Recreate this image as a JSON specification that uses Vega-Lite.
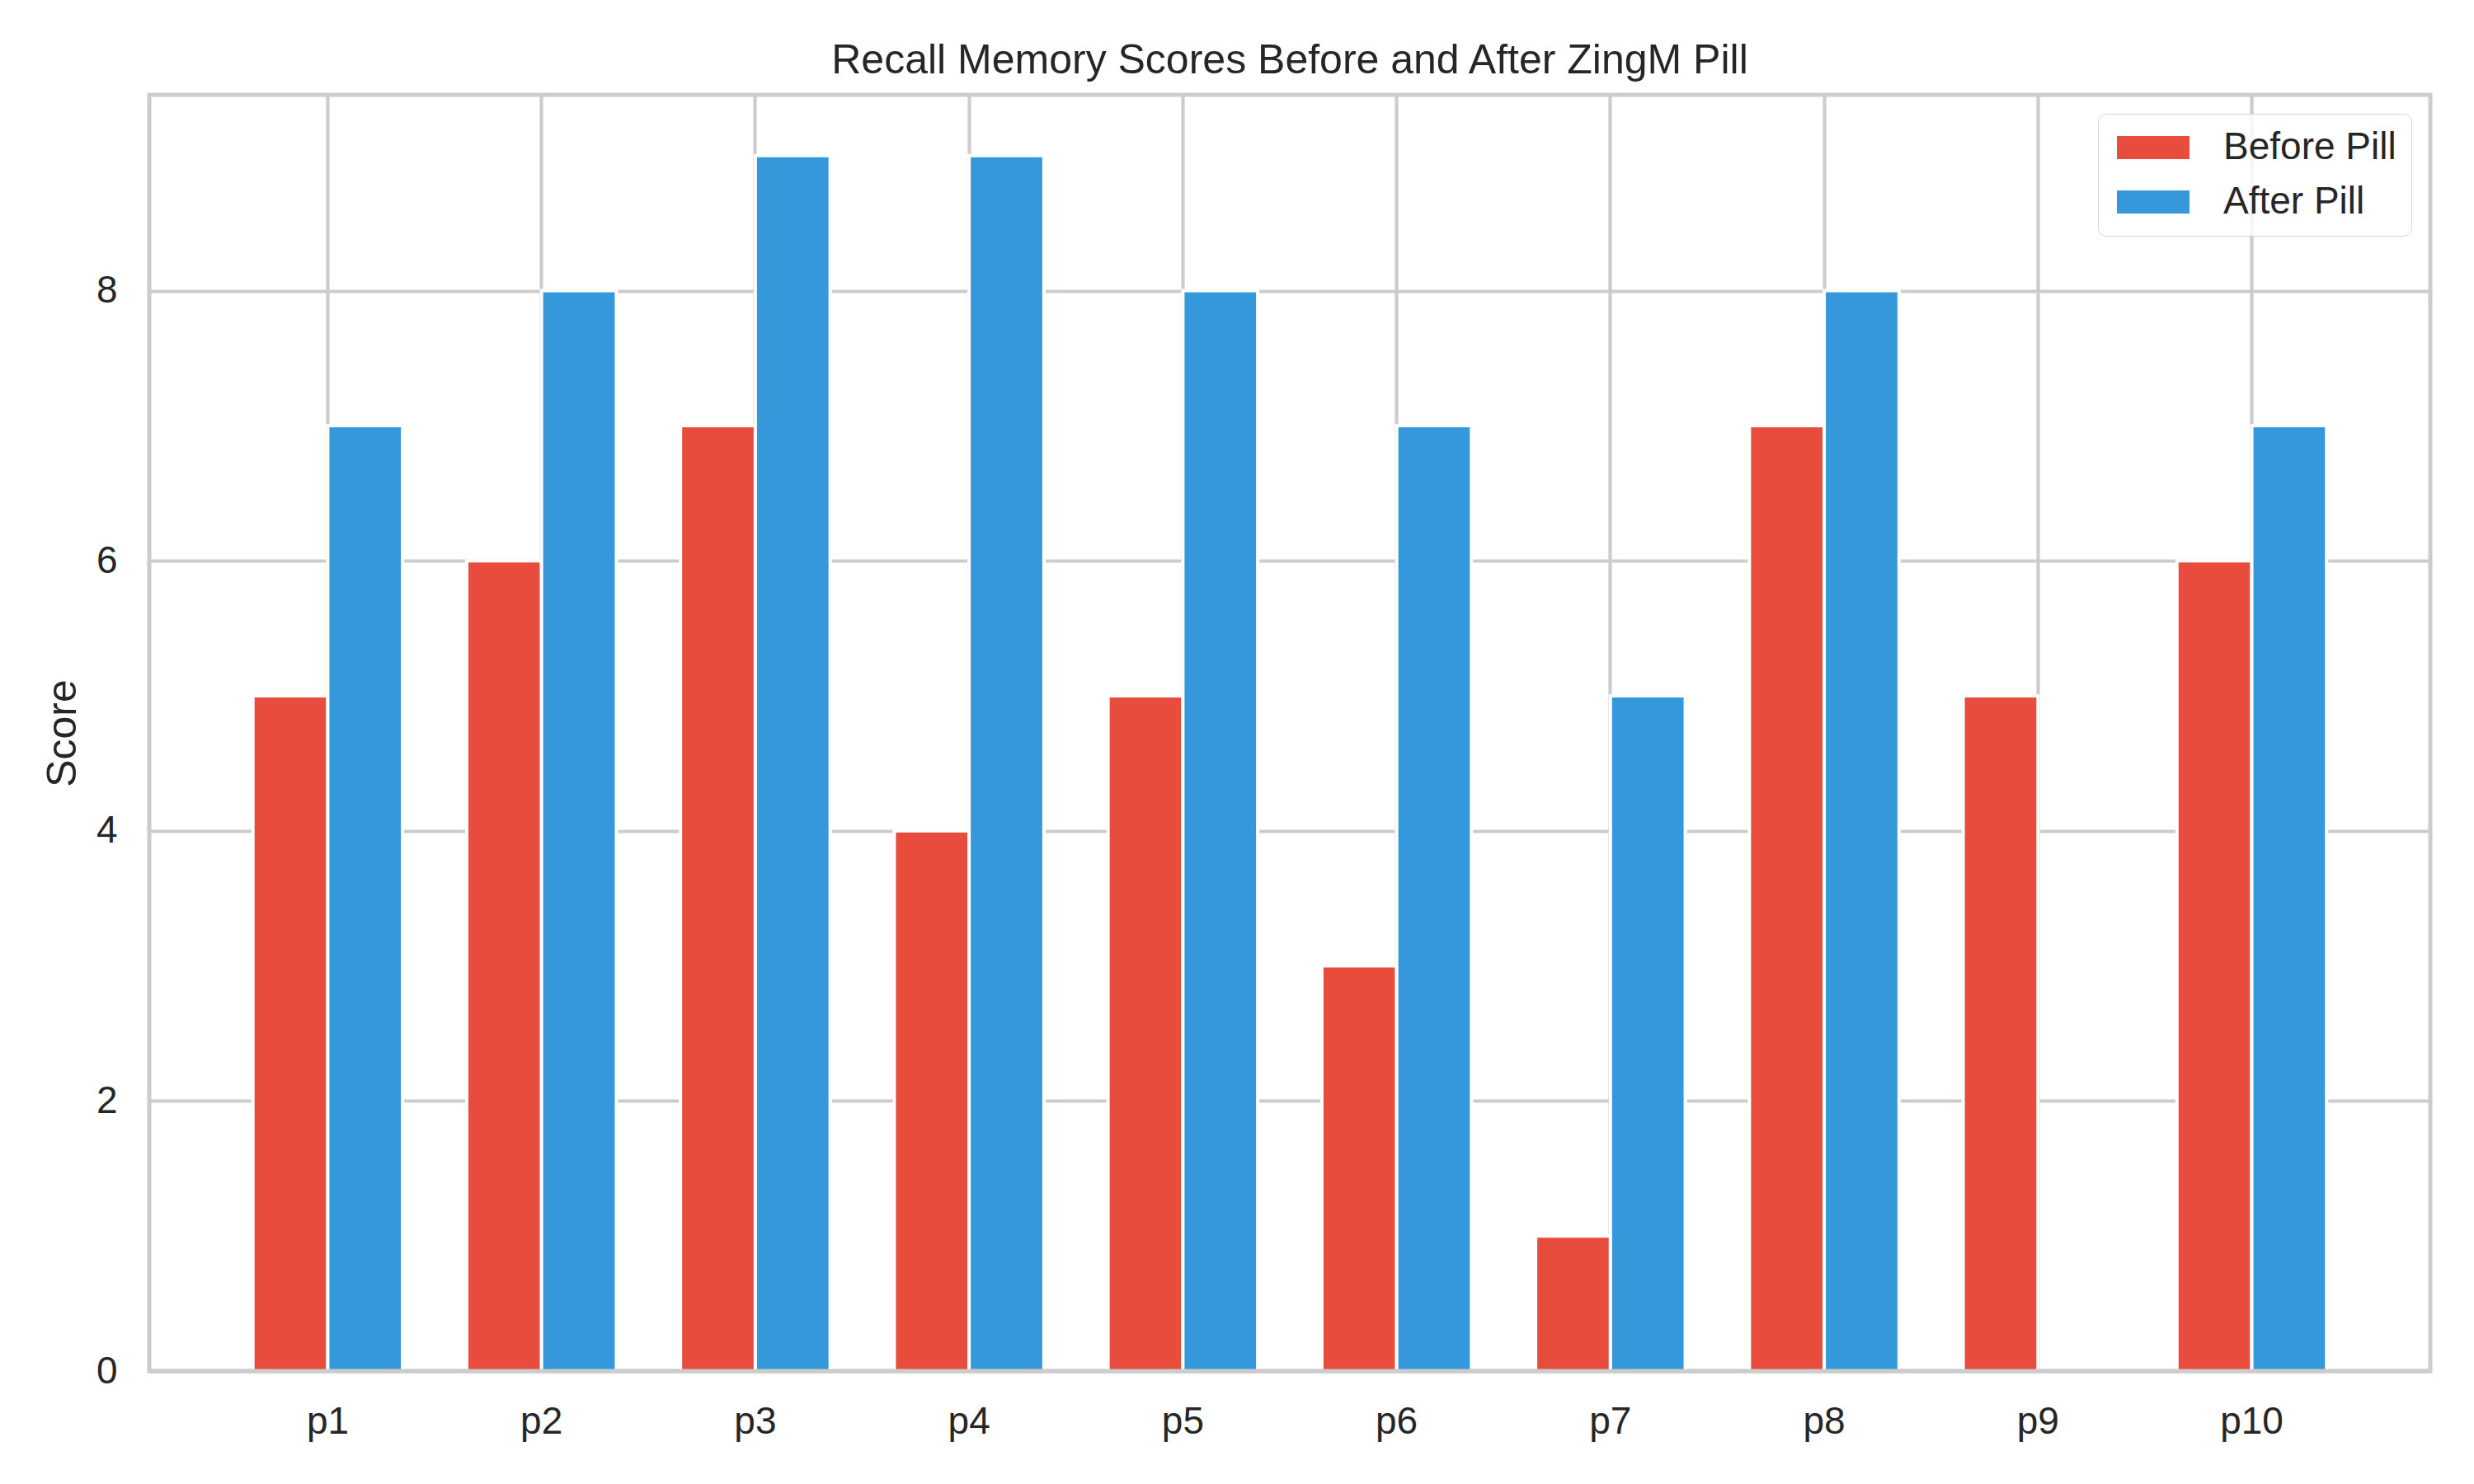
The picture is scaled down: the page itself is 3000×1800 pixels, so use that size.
{
  "$schema": "https://vega.github.io/schema/vega-lite/v6.json",
  "width": 2766,
  "height": 1548,
  "autosize": {"type": "none"},
  "padding": {"left": 181, "top": 115, "right": 53, "bottom": 137},
  "background": "white",
  "title": {
    "text": "Recall Memory Scores Before and After ZingM Pill",
    "font": "Liberation Sans",
    "fontSize": 50,
    "fontWeight": "normal",
    "color": "#262626",
    "anchor": "middle",
    "baseline": "alphabetic",
    "offset": 26,
    "dy": 50
  },
  "config": {
    "view": {"stroke": "#cccccc", "strokeWidth": 5},
    "font": "Liberation Sans"
  },
  "data": {
    "values": [
      {"Participant": "p1", "Condition": "Before Pill", "Score": 5},
      {"Participant": "p1", "Condition": "After Pill", "Score": 7},
      {"Participant": "p2", "Condition": "Before Pill", "Score": 6},
      {"Participant": "p2", "Condition": "After Pill", "Score": 8},
      {"Participant": "p3", "Condition": "Before Pill", "Score": 7},
      {"Participant": "p3", "Condition": "After Pill", "Score": 9},
      {"Participant": "p4", "Condition": "Before Pill", "Score": 4},
      {"Participant": "p4", "Condition": "After Pill", "Score": 9},
      {"Participant": "p5", "Condition": "Before Pill", "Score": 5},
      {"Participant": "p5", "Condition": "After Pill", "Score": 8},
      {"Participant": "p6", "Condition": "Before Pill", "Score": 3},
      {"Participant": "p6", "Condition": "After Pill", "Score": 7},
      {"Participant": "p7", "Condition": "Before Pill", "Score": 1},
      {"Participant": "p7", "Condition": "After Pill", "Score": 5},
      {"Participant": "p8", "Condition": "Before Pill", "Score": 7},
      {"Participant": "p8", "Condition": "After Pill", "Score": 8},
      {"Participant": "p9", "Condition": "Before Pill", "Score": 5},
      {"Participant": "p9", "Condition": "After Pill", "Score": 0},
      {"Participant": "p10", "Condition": "Before Pill", "Score": 6},
      {"Participant": "p10", "Condition": "After Pill", "Score": 7}
    ]
  },
  "layer": [
    {
      "mark": {"type": "bar", "stroke": "white", "strokeWidth": 4},
      "encoding": {
        "x": {
          "field": "Participant",
          "type": "nominal",
          "sort": ["p1", "p2", "p3", "p4", "p5", "p6", "p7", "p8", "p9", "p10"],
          "scale": {"paddingInner": 0.3, "paddingOuter": 0.485},
          "axis": {
            "title": null,
            "domain": false,
            "ticks": false,
            "labelAngle": 0,
            "labelFontSize": 46,
            "labelColor": "#262626",
            "labelPadding": 39,
            "grid": true,
            "gridColor": "#cccccc",
            "gridWidth": 4.2,
            "bandPosition": 0.5
          }
        },
        "xOffset": {
          "field": "Condition",
          "sort": ["Before Pill", "After Pill"],
          "scale": {"paddingInner": 0, "paddingOuter": 0}
        },
        "y": {
          "field": "Score",
          "type": "quantitative",
          "scale": {"domain": [0, 9.45], "nice": false},
          "axis": {
            "title": "Score",
            "titleFontSize": 50,
            "titleFontWeight": "normal",
            "titleColor": "#262626",
            "titlePadding": 15,
            "values": [0, 2, 4, 6, 8],
            "format": "d",
            "domain": false,
            "ticks": false,
            "labelFontSize": 46,
            "labelColor": "#262626",
            "labelPadding": 39,
            "grid": true,
            "gridColor": "#cccccc",
            "gridWidth": 4.2
          }
        },
        "color": {
          "field": "Condition",
          "type": "nominal",
          "scale": {"domain": ["Before Pill", "After Pill"], "range": ["#e74c3c", "#3498db"]},
          "legend": {
            "title": null,
            "orient": "top-right",
            "offset": 23,
            "padding": 18,
            "fillColor": "rgba(255,255,255,0.8)",
            "strokeColor": "#d6d6d6",
            "cornerRadius": 10,
            "symbolType": "M-2,-0.64H2V0.64H-2Z",
            "symbolSize": 1936,
            "symbolOffset": 26,
            "symbolStrokeWidth": 0,
            "symbolOpacity": 1,
            "labelFontSize": 46,
            "labelColor": "#262626",
            "labelOffset": 62,
            "labelLimit": 600,
            "rowPadding": 20,
            "encode": {"legend": {"update": {"strokeWidth": {"value": 4}}}}
          }
        }
      }
    },
    {
      "data": {"values": [{}]},
      "mark": {"type": "rule", "color": "#cccccc", "strokeWidth": 5},
      "encoding": {"y": {"datum": 0}}
    }
  ]
}
